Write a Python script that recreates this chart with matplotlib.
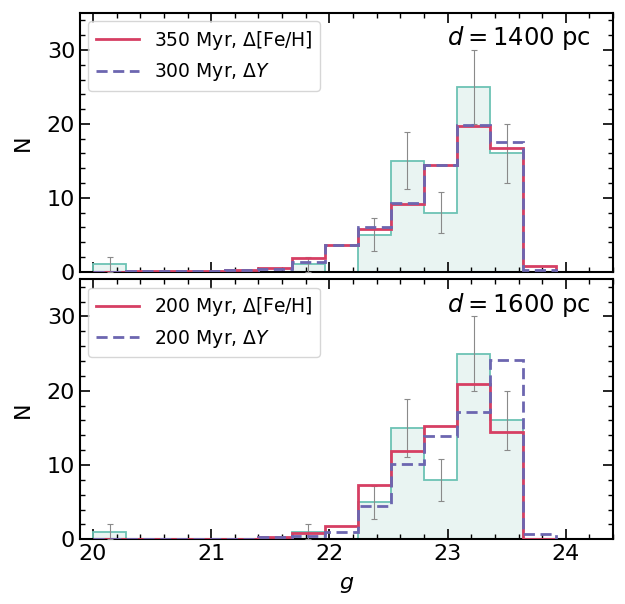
import numpy as np
import matplotlib.pyplot as plt
from matplotlib.ticker import MultipleLocator

# krawędzie przedziałów w g
edges = 20 + 0.28 * np.arange(15)

# obserwowane liczby gwiazd (to samo w obu panelach)
obs = [1, 0, 0, 0, 0, 0, 1, 0, 5, 15, 8, 25, 16, 0]

# modele, d = 1400 pc
top_feh = [0, 0.1, 0.1, 0.1, 0.25, 0.5, 1.8, 3.6, 5.8, 9.2, 14.4, 19.7, 16.7, 0.8]
top_y = [0, 0.05, 0.05, 0.1, 0.2, 0.4, 1.3, 3.6, 6.0, 9.3, 14.5, 19.8, 17.6, 0.2]

# modele, d = 1600 pc
bot_feh = [0, 0.05, 0.05, 0.05, 0.1, 0.3, 0.8, 1.8, 7.3, 11.9, 15.2, 20.9, 14.4, 0]
bot_y = [0, 0.02, 0.02, 0.05, 0.1, 0.25, 0.4, 1.0, 4.5, 10.2, 13.9, 17.1, 24.2, 0.7]

panels = [
    (top_feh, top_y, '350 Myr, $\\Delta$[Fe/H]', '300 Myr, $\\Delta Y$', '$d = 1400$ pc'),
    (bot_feh, bot_y, '200 Myr, $\\Delta$[Fe/H]', '200 Myr, $\\Delta Y$', '$d = 1600$ pc'),
]

fig = plt.figure(figsize=(6.25, 6.04), dpi=100)
ax1 = fig.add_axes([0.128, 0.5502, 0.853, 0.4283])
ax2 = fig.add_axes([0.128, 0.1071, 0.853, 0.4305], sharex=ax1)

obs = np.array(obs)
centers = 0.5 * (edges[1:] + edges[:-1])
mask = obs > 0

for ax, (feh, dy, lab1, lab2, dtxt) in zip([ax1, ax2], panels):
    ax.stairs(obs, edges, fill=True, color='#e9f4f2', zorder=1)
    ax.stairs(obs, edges, baseline=0, color='#6cc3b4', lw=1.3, zorder=2)
    ax.errorbar(centers[mask], obs[mask], yerr=np.sqrt(obs[mask]), fmt='none',
                ecolor='#8a8a8a', elinewidth=0.8, capsize=2, capthick=0.8, zorder=3)
    ax.stairs(feh, edges, baseline=0, color='#d63f63', lw=2, label=lab1, zorder=4)
    ax.stairs(dy, edges, baseline=0, color='#6c66b0', lw=2, ls=(0, (4, 2)), label=lab2, zorder=5)
    ax.set_ylim(0, 35)
    ax.set_ylabel('N', fontsize=16, labelpad=10)
    ax.yaxis.set_major_locator(MultipleLocator(10))
    ax.yaxis.set_minor_locator(MultipleLocator(2))
    ax.xaxis.set_major_locator(MultipleLocator(1))
    ax.xaxis.set_minor_locator(MultipleLocator(0.2))
    ax.tick_params(which='both', direction='in', top=True, right=True, labelsize=16)
    ax.tick_params(which='major', length=7, width=1.2)
    ax.tick_params(which='minor', length=3.5, width=1)
    for s in ax.spines.values():
        s.set_linewidth(1.5)
    ax.legend(loc='upper left', fontsize=13.5, handlelength=2.3, borderaxespad=0.45)
    ax.text(0.958, 0.875, dtxt, transform=ax.transAxes, ha='right', fontsize=17.5)

ax1.set_xlim(19.89, 24.4)
ax1.tick_params(labelbottom=False)
ax2.set_xlabel('$g$', fontsize=16, labelpad=8)

plt.savefig('out.png', dpi=100)
